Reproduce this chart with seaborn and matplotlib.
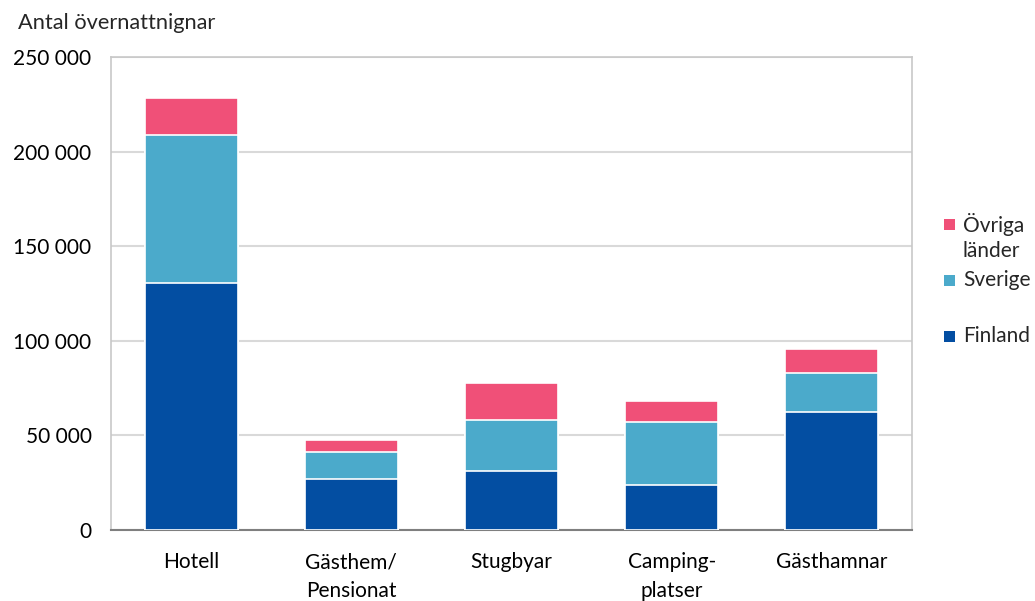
import matplotlib
matplotlib.use("Agg")
import matplotlib.pyplot as plt
import matplotlib.ticker as mticker
from matplotlib.patches import Rectangle
import seaborn as sns
import pandas as pd
import numpy as np

categories = ["Hotell", "Gästhem/\nPensionat", "Stugbyar", "Camping-\nplatser", "Gästhamnar"]
finland = [130500, 27000, 31200, 23800, 62400]
sverige = [78300, 14200, 26900, 33300, 20600]
ovriga = [19500, 6400, 19600, 11100, 12700]
series_names = ["Finland", "Sverige", "Övriga\nländer"]
colors = ["#034EA2", "#4BAACB", "#F05078"]
yticks = [0, 50000, 100000, 150000, 200000, 250000]

sns.set_theme(style="white")
plt.rcParams["font.family"] = ["Lato", "DejaVu Sans"]
FS = 15

W, H = 1035, 601
fig = plt.figure(figsize=(W/100, H/100), dpi=100)
ax = fig.add_axes([111/W, 1-530/H, (912-111)/W, (530-57)/H])

fin = np.array(finland)
sv = fin + np.array(sverige)
tot = sv + np.array(ovriga)
df = pd.DataFrame({"cat": categories, "Finland": fin, "FS": sv, "Tot": tot})

for col, c in [("Tot", colors[2]), ("FS", colors[1]), ("Finland", colors[0])]:
    sns.barplot(data=df, x="cat", y=col, color=c, width=0.58, edgecolor="white",
                linewidth=1.2, ax=ax, saturation=1, zorder=3)

ax.set_ylim(0, 250000)
ax.set_xlim(-0.5, 4.5)
ax.set_yticks(yticks)
ax.yaxis.set_major_formatter(mticker.FuncFormatter(lambda v, p: f"{int(v):,}".replace(",", " ")))
ax.yaxis.grid(True, color="#d9d9d9", linewidth=1.5, zorder=0)
ax.set_axisbelow(True)
ax.set_xlabel("")
ax.set_ylabel("")
ax.tick_params(axis="both", length=0, labelsize=FS, colors="black")
ax.tick_params(axis="y", pad=14)
ax.tick_params(axis="x", pad=16)
for lbl in ax.get_xticklabels():
    lbl.set_linespacing(1.55)
    lbl.set_verticalalignment("top")
for s in ["left", "right", "top"]:
    ax.spines[s].set_color("#c8c8c8")
    ax.spines[s].set_linewidth(1.2)
ax.spines["bottom"].set_color("#7f7f7f")
ax.spines["bottom"].set_linewidth(1.5)

fig.text(18/W, 1-23/H, "Antal övernattnignar", fontsize=15.7, va="center", ha="left")

# legend entries (square + label)
legend_items = [(series_names[2], colors[2], 224), (series_names[1], colors[1], 280),
                (series_names[0], colors[0], 336)]
sq = 11
for name, c, ypix in legend_items:
    fig.add_artist(Rectangle((944/W, 1-(ypix+sq/2)/H), sq/W, sq/H, facecolor=c,
                             edgecolor="none", transform=fig.transFigure))
    lines = name.split("\n")
    for i, line in enumerate(lines):
        fig.text(963/W, 1-(ypix+27*i)/H, line, fontsize=FS, va="center", ha="left")

fig.savefig("out.png", dpi=100)
